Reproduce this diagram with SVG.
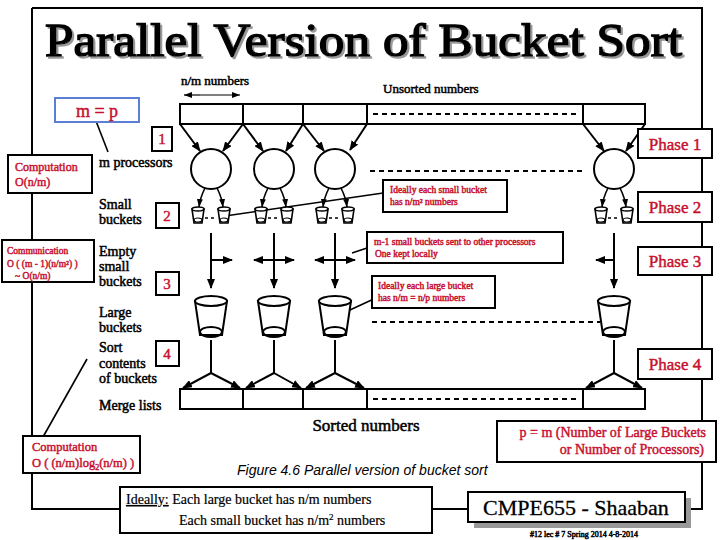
<svg xmlns="http://www.w3.org/2000/svg" width="720" height="540" viewBox="0 0 720 540">
<defs>
<marker id="ah" markerWidth="10" markerHeight="8" refX="9" refY="4" orient="auto" markerUnits="userSpaceOnUse"><path d="M0,0 L10,4 L0,8 z" fill="#000"/></marker>
<marker id="as" markerWidth="8" markerHeight="6" refX="8" refY="3" orient="auto" markerUnits="userSpaceOnUse"><path d="M0,0 L8,3 L0,6 z" fill="#000"/></marker>
<filter id="sh" x="-5%" y="-20%" width="110%" height="140%"><feOffset in="SourceAlpha" dx="2" dy="2" result="o"/><feFlood flood-color="#999"/><feComposite in2="o" operator="in" result="s"/><feMerge><feMergeNode in="s"/><feMergeNode in="SourceGraphic"/></feMerge></filter>
<g id="sb"><path d="M-6,0 L6,0 L4,14 L-4,14 Z" fill="#fff" stroke="#000" stroke-width="1.6"/><ellipse cx="0" cy="0" rx="6" ry="2" fill="#fff" stroke="#000" stroke-width="1.4"/><ellipse cx="0" cy="11" rx="4" ry="2" fill="none" stroke="#000" stroke-width="1.2"/></g>
<g id="lb"><path d="M-16,0 L16,0 L11,34 L-11,34 Z" fill="#fff" stroke="#000" stroke-width="2"/><ellipse cx="0" cy="0" rx="16" ry="5" fill="#fff" stroke="#000" stroke-width="2"/><ellipse cx="0" cy="31" rx="11" ry="5" fill="none" stroke="#000" stroke-width="2"/></g>
</defs>
<style>
.t{font-family:"Liberation Serif","Times New Roman",serif;fill:#000;stroke:#000;stroke-width:0.5}
.r{font-family:"Liberation Serif","Times New Roman",serif;fill:#c8102e;stroke:#c8102e;stroke-width:0.45}
.bx{fill:#fff;stroke:#000;stroke-width:2}
.ln{stroke:#000;stroke-width:2;fill:none}
.dot{stroke:#000;stroke-width:2;stroke-dasharray:5,4;fill:none}
</style>
<rect width="720" height="540" fill="#fff"/>
<g id="frame"><path d="M32,8 H702 V509 H686 M32,8 V509 H122 M432,509 H470" class="ln"/></g>
<g id="title"><text x="45" y="56" textLength="637" lengthAdjust="spacingAndGlyphs" class="t" font-size="46" style="stroke-width:1.5" filter="url(#sh)">Parallel Version of Bucket Sort</text></g>
<g id="connectors">
<line x1="200" y1="95" x2="240" y2="95" stroke="#000" stroke-width="1.2" marker-end="url(#as)"/>
<line x1="200" y1="95" x2="184" y2="95" stroke="#000" stroke-width="1.2" marker-end="url(#as)"/>
<g stroke="#000" stroke-width="2" marker-end="url(#ah)">
<line x1="180" y1="124" x2="200" y2="151"/><line x1="243" y1="124" x2="223" y2="151"/>
<line x1="243" y1="124" x2="263" y2="151"/><line x1="303" y1="124" x2="286" y2="151"/>
<line x1="303" y1="124" x2="324" y2="151"/><line x1="367" y1="124" x2="350" y2="150"/>
<line x1="583" y1="124" x2="604" y2="151"/><line x1="645" y1="124" x2="626" y2="151"/>
</g>
<g stroke="#000" stroke-width="1.6" marker-end="url(#as)">
<path d="M205,188 Q200,198 199,207" fill="none"/><path d="M217,188 Q222,198 223,207" fill="none"/>
<path d="M268,188 Q263,198 262,207" fill="none"/><path d="M280,188 Q285,198 286,207" fill="none"/>
<path d="M329,188 Q324,198 323,207" fill="none"/><path d="M341,188 Q346,198 347,207" fill="none"/>
<path d="M608,188 Q603,198 602,207" fill="none"/><path d="M620,188 Q625,198 626,207" fill="none"/>
</g>
<g stroke="#000" stroke-width="2" marker-end="url(#ah)">
<line x1="211" y1="233" x2="211" y2="288"/><line x1="274" y1="233" x2="274" y2="288"/>
<line x1="335" y1="233" x2="335" y2="288"/><line x1="614" y1="233" x2="614" y2="288"/>
<line x1="211" y1="260" x2="232" y2="260"/>
<line x1="274" y1="260" x2="254" y2="260"/><line x1="274" y1="260" x2="294" y2="260"/>
<line x1="335" y1="260" x2="315" y2="260"/><line x1="335" y1="260" x2="355" y2="260"/>
<line x1="614" y1="260" x2="596" y2="260"/>
</g>
<g stroke="#000" stroke-width="2"><line x1="211" y1="340" x2="211" y2="373"/><line x1="274" y1="340" x2="274" y2="373"/><line x1="335" y1="340" x2="335" y2="373"/><line x1="614" y1="340" x2="614" y2="373"/></g>
<g stroke="#000" stroke-width="2" marker-end="url(#ah)">
<line x1="211" y1="373" x2="183" y2="388"/><line x1="211" y1="373" x2="240" y2="388"/>
<line x1="274" y1="373" x2="246" y2="388"/><line x1="274" y1="373" x2="301" y2="388"/>
<line x1="335" y1="373" x2="306" y2="388"/><line x1="335" y1="373" x2="364" y2="388"/>
<line x1="614" y1="373" x2="586" y2="388"/><line x1="614" y1="373" x2="642" y2="388"/>
</g>
<g stroke="#000" stroke-width="1.6"><line x1="96" y1="121" x2="108" y2="152"/><line x1="225" y1="216" x2="390" y2="192"/><line x1="352" y1="253" x2="370" y2="247"/><line x1="337" y1="316" x2="378" y2="297"/><line x1="43" y1="437" x2="87" y2="359"/></g>
</g>
<g id="bars">
<rect x="180" y="104" width="465" height="20" class="bx"/>
<path d="M243,104 V124 M303,104 V124 M367,104 V124 M583,104 V124" class="ln"/>
<line x1="373" y1="114" x2="578" y2="114" class="dot"/>
<line x1="370" y1="171" x2="585" y2="171" class="dot"/>
<line x1="372" y1="322" x2="600" y2="322" class="dot"/>
<rect x="180" y="389" width="465" height="20" class="bx"/>
<path d="M243,389 V409 M303,389 V409 M367,389 V409 M583,389 V409" class="ln"/>
<line x1="373" y1="399" x2="578" y2="399" class="dot"/>
</g>
<g id="processors" fill="#fff" stroke="#000" stroke-width="2">
<circle cx="211" cy="169" r="20"/><circle cx="274" cy="169" r="20"/><circle cx="335" cy="169" r="20"/><circle cx="614" cy="169" r="20"/>
</g>
<g id="smallbuckets">
<g stroke="#000" stroke-width="1.5" stroke-dasharray="3,3"><line x1="205" y1="218" x2="216" y2="218"/><line x1="268" y1="218" x2="279" y2="218"/><line x1="329" y1="218" x2="340" y2="218"/><line x1="608" y1="218" x2="619" y2="218"/></g>
<use href="#sb" x="198" y="209"/><use href="#sb" x="224" y="209"/>
<use href="#sb" x="261" y="209"/><use href="#sb" x="287" y="209"/>
<use href="#sb" x="322" y="209"/><use href="#sb" x="348" y="209"/>
<use href="#sb" x="601" y="209"/><use href="#sb" x="627" y="209"/>
</g>
<g id="largebuckets"><use href="#lb" x="211" y="301"/><use href="#lb" x="274" y="301"/><use href="#lb" x="335" y="301"/><use href="#lb" x="614" y="301"/></g>
<g id="labels" class="t" font-size="14">
<text x="215" y="85" text-anchor="middle" font-size="13">n/m numbers</text>
<text x="383" y="93" font-size="13">Unsorted numbers</text>
<text x="99" y="167">m processors</text>
<text x="99" y="209">Small</text><text x="99" y="224">buckets</text>
<text x="99" y="256">Empty</text><text x="99" y="271">small</text><text x="99" y="286">buckets</text>
<text x="99" y="317">Large</text><text x="99" y="332">buckets</text>
<text x="99" y="352">Sort</text><text x="99" y="368">contents</text><text x="99" y="383">of buckets</text>
<text x="99" y="410">Merge lists</text>
<text x="366" y="431" text-anchor="middle" font-size="17">Sorted numbers</text>
<text x="237" y="475" font-family="Liberation Sans,sans-serif" stroke="none" style="stroke:none" font-style="italic" font-size="14">Figure 4.6 Parallel version of bucket sort</text>
</g>
<g id="mp"><rect x="55" y="98" width="84" height="24" fill="#fff" stroke="#5b7fd6" stroke-width="2"/><text x="97" y="117" text-anchor="middle" class="r" font-size="18">m  =  p</text></g>
<g id="steps" class="r" font-size="15" text-anchor="middle">
<rect x="152" y="127" width="20" height="24" class="bx"/><text x="162" y="144">1</text>
<rect x="156" y="203" width="23" height="25" class="bx"/><text x="167" y="221">2</text>
<rect x="156" y="272" width="23" height="23" class="bx"/><text x="167" y="289">3</text>
<rect x="156" y="341" width="23" height="25" class="bx"/><text x="167" y="359">4</text>
</g>
<g id="comp1"><rect x="8" y="155" width="84" height="38" class="bx"/><text class="r" font-size="12" x="15" y="171">Computation</text><text class="r" font-size="12" x="15" y="186">O(n/m)</text></g>
<g id="comm"><rect x="2" y="240" width="92" height="42" class="bx"/><text class="r" font-size="9.5" x="7" y="254">Communication</text><text class="r" font-size="9.5" x="7" y="267">O ( (m - 1)(n/m²) )</text><text class="r" font-size="9.5" x="15" y="279">~ O(n/m)</text></g>
<g id="comp2"><rect x="23" y="436" width="117" height="37" class="bx"/><text class="r" font-size="12.5" x="32" y="451">Computation</text><text class="r" font-size="12.5" x="32" y="467">O ( (n/m)log<tspan font-size="8" dy="3">2</tspan><tspan dy="-3">(n/m) )</tspan></text></g>
<g id="phases" class="r" font-size="17" text-anchor="middle">
<rect x="638" y="129" width="74" height="29" class="bx"/><text x="675" y="150">Phase 1</text>
<rect x="638" y="192" width="74" height="30" class="bx"/><text x="675" y="213">Phase 2</text>
<rect x="638" y="247" width="74" height="28" class="bx"/><text x="675" y="267">Phase 3</text>
<rect x="638" y="349" width="74" height="30" class="bx"/><text x="675" y="370">Phase 4</text>
</g>
<g id="notes" class="r" font-size="9.5">
<rect x="383" y="180" width="124" height="32" class="bx"/><text x="390" y="193">Ideally  each small bucket</text><text x="390" y="205">has n/m² numbers</text>
<rect x="367" y="232" width="196" height="31" class="bx"/><text x="374" y="245">m-1 small buckets sent to other processors</text><text x="375" y="257">One kept locally</text>
<rect x="372" y="276" width="123" height="32" class="bx"/><text x="378" y="289">Ideally  each large bucket</text><text x="378" y="301">has n/m = n/p numbers</text>
</g>
<g id="pm"><rect x="497" y="421" width="219" height="41" class="bx"/><text class="r" font-size="14" x="706" y="437" text-anchor="end">p = m (Number of Large Buckets</text><text class="r" font-size="14" x="704" y="454" text-anchor="end">or Number of Processors)</text></g>
<g id="ideally" class="t" style="stroke-width:0.2" font-size="14"><rect x="120" y="487" width="312" height="46" class="bx"/><text x="126" y="504"><tspan text-decoration="underline">Ideally:</tspan> Each large bucket has n/m numbers</text><text x="179" y="525">Each small bucket has n/m<tspan font-size="9" dy="-5">2</tspan><tspan dy="5">  numbers</tspan></text></g>
<g id="cmpe"><rect x="474" y="498" width="217" height="30" fill="#999"/><rect x="468" y="492" width="217" height="30" class="bx"/><text x="576" y="515" text-anchor="middle" class="t" style="stroke-width:0.3" font-size="22">CMPE655 - Shaaban</text><text x="530" y="537" class="t" font-size="8">#12   lec # 7    Spring 2014    4-8-2014</text></g>
</svg>
